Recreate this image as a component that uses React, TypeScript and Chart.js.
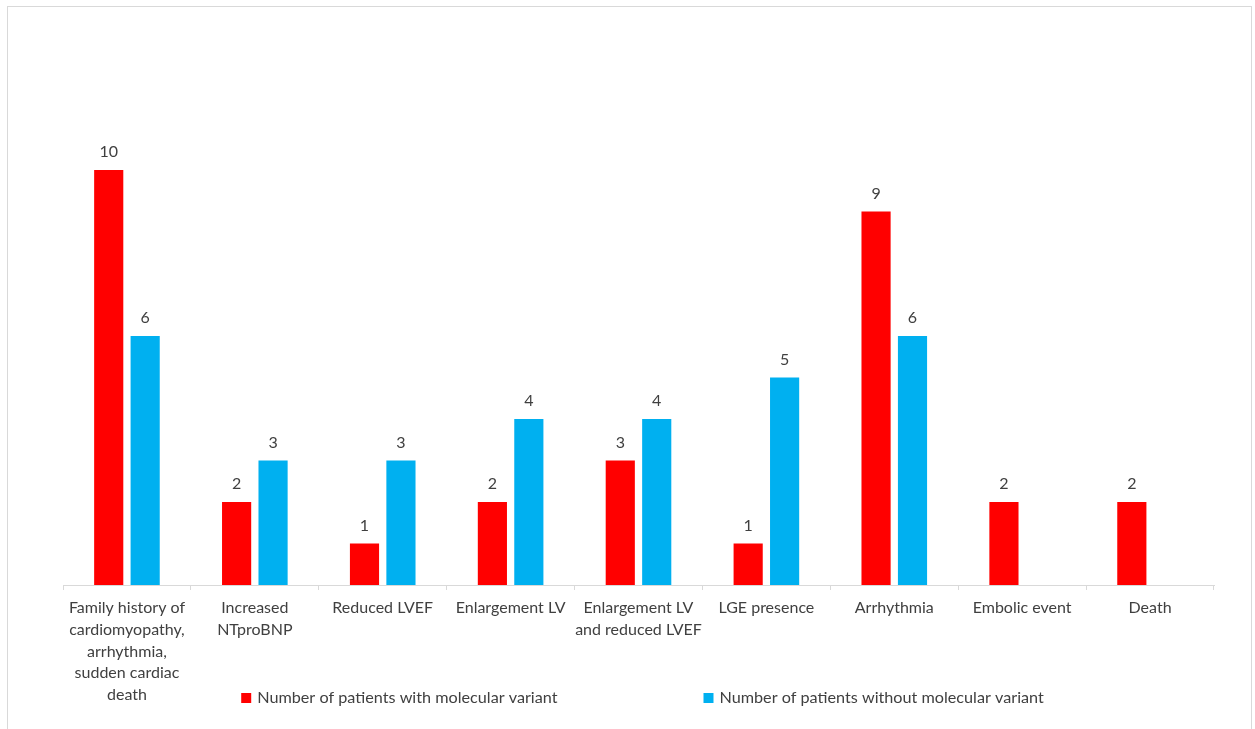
import React, { useEffect, useRef } from "react";
import { Chart, registerables } from "chart.js";

Chart.register(...registerables);

const categories: (string | string[])[] = [
  ["Family history of", "cardiomyopathy,", "arrhythmia,", "sudden cardiac", "death"],
  ["Increased", "NTproBNP"],
  "Reduced LVEF",
  "Enlargement LV",
  ["Enlargement LV", "and reduced LVEF"],
  "LGE presence",
  "Arrhythmia",
  "Embolic event",
  "Death",
];

const withVariant = [10, 2, 1, 2, 3, 1, 9, 2, 2];
const withoutVariant = [6, 3, 3, 4, 4, 5, 6, 0, 0];

const seriesLabels = [
  "Number of patients with molecular variant",
  "Number of patients without molecular variant",
];
const seriesColors = ["#FF0000", "#00B0F0"];

const FONT = "Lato, 'Liberation Sans', sans-serif";
const TEXT = "#404040";

const valueLabels = {
  id: "valueLabels",
  afterDatasetsDraw(chart: any) {
    const ctx = chart.ctx;
    ctx.save();
    ctx.font = `16px ${FONT}`;
    ctx.fillStyle = TEXT;
    ctx.textAlign = "center";
    ctx.textBaseline = "middle";
    chart.data.datasets.forEach((ds: any, di: number) => {
      const meta = chart.getDatasetMeta(di);
      meta.data.forEach((bar: any, i: number) => {
        const v = ds.data[i];
        if (!v) return;
        ctx.fillText(String(v), bar.x, bar.y - 18);
      });
    });
    ctx.restore();
  },
};

const customLegend = {
  id: "customLegend",
  afterDraw(chart: any) {
    const ctx = chart.ctx;
    ctx.save();
    ctx.font = `16.2px ${FONT}`;
    ctx.textBaseline = "middle";
    ctx.textAlign = "left";
    const y = 698;
    const box = 10;
    const gapText = 6;
    const gapItems = 146;
    const items = chart.data.datasets.map((ds: any) => ({
      text: ds.label,
      color: ds.backgroundColor,
      w: box + gapText + ctx.measureText(ds.label).width,
    }));
    const total = items.reduce((s: number, it: any) => s + it.w, 0) + gapItems * (items.length - 1);
    let x = 642.5 - total / 2;
    items.forEach((it: any) => {
      ctx.fillStyle = it.color;
      ctx.fillRect(x, y - box / 2, box, box);
      ctx.fillStyle = TEXT;
      ctx.fillText(it.text, x + box + gapText, y);
      x += it.w + gapItems;
    });
    ctx.restore();
  },
};

export default function App() {
  const ref = useRef<HTMLCanvasElement>(null);
  useEffect(() => {
    if (!ref.current) return;
    const chart = new Chart(ref.current, {
      type: "bar",
      data: {
        labels: categories,
        datasets: [
          {
            label: seriesLabels[0],
            data: withVariant,
            backgroundColor: seriesColors[0],
            categoryPercentage: 0.57,
            barPercentage: 0.8,
          },
          {
            label: seriesLabels[1],
            data: withoutVariant,
            backgroundColor: seriesColors[1],
            categoryPercentage: 0.57,
            barPercentage: 0.8,
          },
        ],
      },
      options: {
        animation: false,
        responsive: false,
        maintainAspectRatio: false,
        layout: { padding: { left: 63, right: 41, top: 87, bottom: 0 } },
        plugins: {
          legend: { display: false },
          tooltip: { enabled: false },
        },
        scales: {
          x: {
            grid: {
              display: true,
              drawOnChartArea: false,
              drawTicks: true,
              tickLength: 5,
              color: "#D9D9D9",
              lineWidth: 1,
            },
            border: { display: true, color: "#D9D9D9", width: 1 },
            ticks: {
              color: TEXT,
              font: { family: FONT, size: 16, lineHeight: 1.36 },
              padding: 7,
              maxRotation: 0,
              autoSkip: false,
            },
            afterFit(scale: any) {
              scale.height = 729 - 585;
            },
          },
          y: {
            display: false,
            min: 0,
            max: 12,
          },
        },
      },
      plugins: [valueLabels, customLegend],
    });
    return () => chart.destroy();
  }, []);
  return (
    <div style={{ position: "fixed", left: 0, top: 0, width: 1255, height: 729, background: "#fff" }}>
      <div
        style={{
          position: "absolute",
          left: 7,
          top: 6,
          width: 1245,
          height: 740,
          border: "1px solid #D9D9D9",
          boxSizing: "border-box",
        }}
      />
      <canvas ref={ref} width={1255} height={729} style={{ position: "absolute", left: 0, top: 0 }} />
    </div>
  );
}
